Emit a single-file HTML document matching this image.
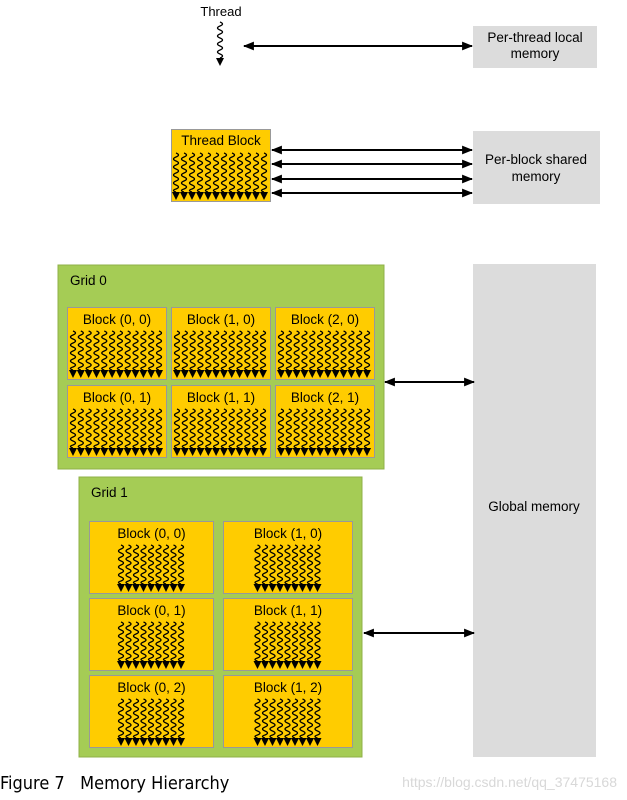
<!DOCTYPE html>
<html><head><meta charset="utf-8"><style>
html,body{margin:0;padding:0;background:#fff;width:627px;height:800px;overflow:hidden}
svg{display:block}
text{font-family:"Liberation Sans",sans-serif;fill:#000}
</style></head><body>
<svg id="s" width="627" height="800" xmlns="http://www.w3.org/2000/svg">
<defs>
<marker id="a" viewBox="0 0 10 10" refX="9" refY="5" markerWidth="5.5" markerHeight="5.5" orient="auto-start-reverse"><path d="M0,1 L10,5 L0,9 z" fill="#000"/></marker>
</defs>
<rect x="473" y="26" width="124" height="42" fill="#dcdcdc"/>
<text x="535" y="42" font-size="13.5" text-anchor="middle">Per-thread local</text>
<text x="535" y="58" font-size="13.5" text-anchor="middle">memory</text>
<rect x="473" y="131" width="127" height="73" fill="#dcdcdc"/>
<text x="536" y="164" font-size="13.5" text-anchor="middle">Per-block shared</text>
<text x="536" y="181" font-size="13.5" text-anchor="middle">memory</text>
<rect x="473" y="264" width="123" height="493" fill="#dcdcdc"/>
<text x="534" y="511" font-size="13.5" text-anchor="middle">Global memory</text>
<text x="221" y="16" font-size="13" text-anchor="middle">Thread</text>
<g id="dyn"></g>
<g stroke="#000" stroke-width="2" marker-start="url(#a)" marker-end="url(#a)">
<line x1="244" y1="46" x2="472" y2="46"/>
<line x1="272" y1="150" x2="472" y2="150"/>
<line x1="272" y1="164" x2="472" y2="164"/>
<line x1="272" y1="179" x2="472" y2="179"/>
<line x1="272" y1="193" x2="472" y2="193"/>
<line x1="385" y1="382" x2="474" y2="382"/>
<line x1="364" y1="633" x2="474" y2="633"/>
</g>
<text x="0" y="789" font-size="18" xml:space="preserve" style="white-space:pre;font-family:'DejaVu Sans Condensed','DejaVu Sans',sans-serif">Figure 7   Memory Hierarchy</text>
<text x="617" y="787" font-size="14" text-anchor="end" style="fill:#d8d8d8">https://blog.csdn.net/qq_37475168</text>
</svg>
<script>
var g=document.getElementById('dyn'),NS='http://www.w3.org/2000/svg';
function el(n,a){var e=document.createElementNS(NS,n);for(var k in a)e.setAttribute(k,a[k]);g.appendChild(e);return e;}
function squig(x,y1,y2){var d='M'+x+','+y1,y=y1,s=1;while(y<y2-0.5){var yn=Math.min(y+4,y2);d+=' Q'+(x+s*5)+','+((y+yn)/2)+' '+x+','+yn;y=yn;s=-s;}el('path',{d:d,fill:'none',stroke:'#000','stroke-width':1.3});}
function tri(x,y){el('path',{d:'M'+(x-4)+','+y+' L'+(x+4)+','+y+' L'+x+','+(y+8)+' z',fill:'#000'});}
function threads(x0,x1,y1,y2,n){var st=(x1-x0)/(n-1);for(var i=0;i<n;i++){var x=x0+i*st;squig(x,y1,y2);tri(x,y2);}}
function block(x,y,w,h,label,x0,x1,n){el('rect',{x:x+0.5,y:y+0.5,width:w,height:h,fill:'#ffcc00',stroke:'#999','stroke-width':1});var t=el('text',{x:x+w/2+0.5,y:y+17,'font-size':13.5,'text-anchor':'middle'});t.textContent=label;threads(x0,x1,y+24,y+h-9,n);}
squig(220,22,58);tri(220,58);
block(171,129,99,72,'',176,264,12);
var t=el('text',{x:221,y:145,'font-size':13.5,'text-anchor':'middle'});t.textContent='Thread Block';
el('rect',{x:58,y:265,width:326,height:204,fill:'#a5cc55',stroke:'#8fb048','stroke-width':1});
t=el('text',{x:70,y:285,'font-size':13.5});t.textContent='Grid 0';
var xs=[67,171,275],ys=[307,385];
for(var r=0;r<2;r++)for(var c=0;c<3;c++)block(xs[c],ys[r],99,72,'Block ('+c+', '+r+')',xs[c]+6,xs[c]+92,12);
el('rect',{x:79,y:477,width:283,height:280,fill:'#a5cc55',stroke:'#8fb048','stroke-width':1});
t=el('text',{x:91,y:497,'font-size':13.5});t.textContent='Grid 1';
var xs2=[89,223],ws2=[124,129],ys2=[521,598,675];
for(var r=0;r<3;r++)for(var c=0;c<2;c++)block(xs2[c],ys2[r],ws2[c],72,'Block ('+c+', '+r+')',xs2[c]+ws2[c]/2-30,xs2[c]+ws2[c]/2+30,9);
</script>
</body></html>
